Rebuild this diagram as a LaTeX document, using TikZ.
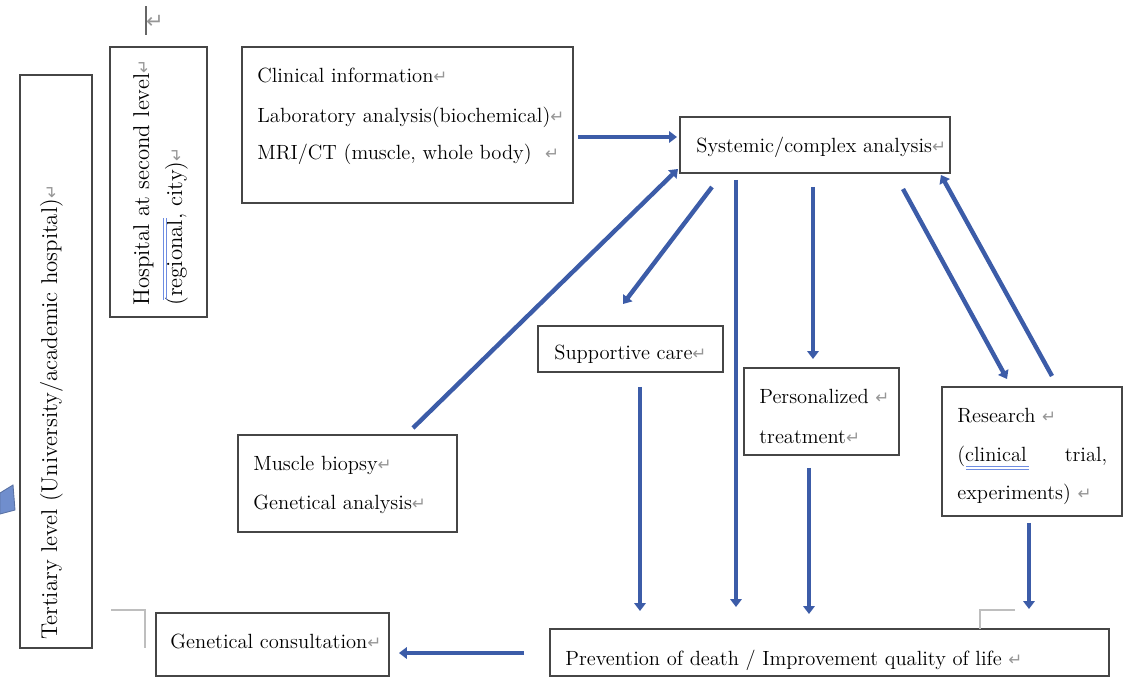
\documentclass[tikz,border=0pt]{standalone}
\usepackage{fontspec}
\newfontfamily\dejavu{DejaVu Sans}
\usetikzlibrary{calc,arrows.meta}
\definecolor{arrblue}{RGB}{60,92,168}
\definecolor{retgray}{RGB}{150,150,150}
\definecolor{boxgray}{RGB}{70,70,70}
\definecolor{markblue}{RGB}{110,140,225}
\definecolor{shapeblue}{RGB}{112,142,205}
\definecolor{cornergray}{RGB}{190,190,190}
\newcommand\retm{{\color{retgray}\dejavu\fontsize{9.5}{9.5}\selectfont ↵}}
\begin{document}
\begin{tikzpicture}[x=0.02cm,y=-0.02cm,
  box/.style={draw=boxgray,line width=0.7pt,inner sep=0pt,outer sep=0pt,anchor=north west},
  txt/.style={anchor=base west,inner sep=0pt,font=\fontsize{11.7}{14}\selectfont,text=black},
  rtxt/.style={anchor=base west,inner sep=0pt,rotate=90,font=\fontsize{13}{15}\selectfont,text=black},
  arr/.style={draw=arrblue,line width=2.5pt,-{Triangle[width=6.5pt,length=4.5pt]}},
  gmark/.style={draw=markblue,line width=0.5pt},
  corner/.style={draw=cornergray,line width=0.6pt}]
\useasboundingbox (0,0) rectangle (1127,677);

% boxes
\node[box,minimum width=1.44cm,minimum height=11.46cm] (ter) at (20,75) {};
\node[box,minimum width=1.94cm,minimum height=5.40cm] (hos) at (110,47) {};
\node[box,minimum width=6.62cm,minimum height=3.12cm] (clin) at (242,47) {};
\node[box,minimum width=5.40cm,minimum height=1.12cm] (sys) at (680,117) {};
\node[box,minimum width=3.70cm,minimum height=0.92cm] (sup) at (538,326) {};
\node[box,minimum width=3.10cm,minimum height=1.74cm] (per) at (744,368) {};
\node[box,minimum width=3.60cm,minimum height=2.58cm] (res) at (942,387) {};
\node[box,minimum width=4.38cm,minimum height=1.94cm] (mb) at (238,435) {};
\node[box,minimum width=4.66cm,minimum height=1.26cm] (gc) at (156,613) {};
\node[box,minimum width=11.18cm,minimum height=0.94cm] (prev) at (550,629) {};

% texts
\node[rtxt] (terT) at (57,640) {Tertiary level (University/academic hospital)\retm};
\node[rtxt] (hosT1) at (149,306) {Hospital at second level\retm};
\node[rtxt] (hosT2) at (182,306) {(regional, city)\retm};
\node[txt] (clinT1) at (257,82) {Clinical information\retm};
\node[txt] (clinT2) at (257,122) {Laboratory analysis(biochemical)\retm};
\node[txt] (clinT3) at (257,159) {MRI/CT (muscle, whole body)~~\retm};
\node[txt] (sysT) at (696,152) {Systemic/complex analysis\retm};
\node[txt] (supT) at (554,359) {Supportive care\retm};
\node[txt] (perT1) at (759,403) {Personalized~\retm};
\node[txt] (perT2) at (759,443) {treatment\retm};
\node[txt] (resT1) at (957,422) {Research~\retm};
\node[txt] (resT2) at (957,461) {\hbox to 3.0cm{(clinical\hfill trial,}};
\node[txt] (resT3) at (957,499) {experiments)~\retm};
\node[txt] (mbT1) at (253,470) {Muscle biopsy\retm};
\node[txt] (mbT2) at (253,509) {Genetical analysis\retm};
\node[txt] (gcT) at (170,648) {Genetical consultation\retm};
\node[txt] (prevT) at (565,665) {Prevention of death / Improvement quality of life~\retm};

% editor marks
\draw[draw=black!60,line width=0.7pt] (146,6) -- (146,35);
\node[inner sep=0pt,font=\fontsize{12}{12}\selectfont] (topret) at (155,22) {{\color{retgray}\dejavu ↵}};
\draw[gmark] (163,218) -- (163,300) (166,218) -- (166,300);
\draw[gmark] (966,466) -- (1029,466) (966,469) -- (1029,469);
\draw[corner] (111,610) -- (145,610) -- (145,648);
\draw[corner] (1015,610) -- (980,610) -- (980,629);
\filldraw[fill=shapeblue,draw=shapeblue!80!black,line width=0.5pt] (0,493) -- (13,485) -- (15,510) -- (0,514) -- cycle;

% connectors
\draw[arr] ($(clin.north east)+(5,90)$) -- ($(sys.north west)+(-3,20)$);
\draw[arr] ($(mb.north west)+(175,-7)$) -- ($(sys.south west)+(-2,-4)$);
\draw[arr] ($(sys.south west)+(32,14)$) -- ($(sup.north west)+(85,-22)$);
\draw[arr] ($(sys.south west)+(56,7)$) -- ($(prev.north west)+(186,-22)$);
\draw[arr] ($(sys.south west)+(133,14)$) -- ($(per.north west)+(69,-9)$);
\draw[arr] ($(sys.south west)+(223,16)$) -- ($(res.north west)+(65,-8)$);
\draw[arr] ($(res.north west)+(110,-11)$) -- ($(sys.south east)+(-9,2)$);
\draw[arr] ($(sup.south west)+(102,15)$) -- ($(prev.north west)+(90,-18)$);
\draw[arr] ($(per.south west)+(65,13)$) -- ($(prev.north west)+(259,-15)$);
\draw[arr] ($(res.south west)+(87,7)$) -- ($(prev.north west)+(479,-20)$);
\draw[arr] ($(prev.north west)+(-26,24)$) -- ($(gc.north east)+(10,40)$);
\end{tikzpicture}
\end{document}
